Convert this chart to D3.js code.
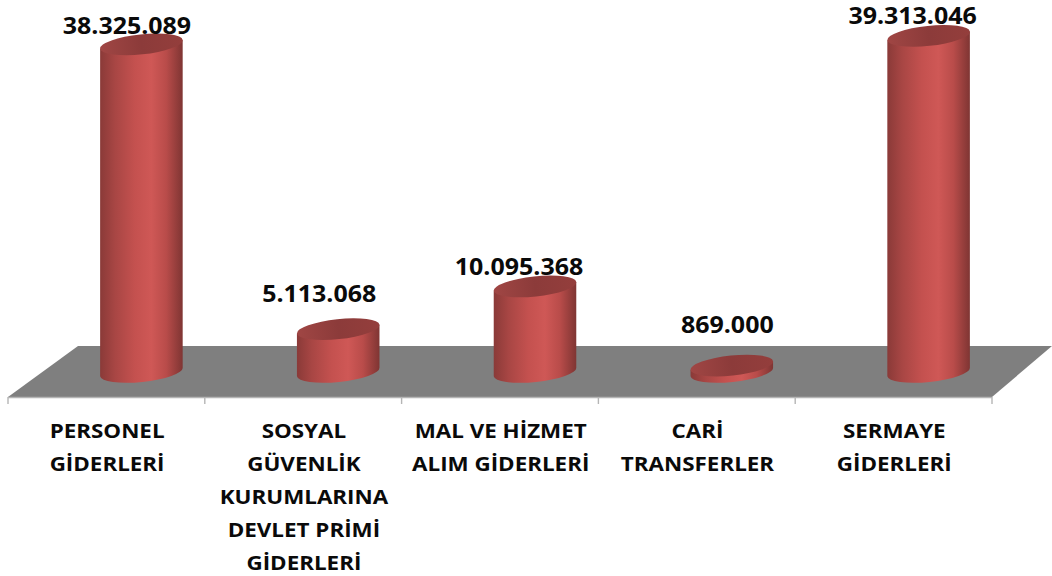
<!DOCTYPE html>
<html><head><meta charset="utf-8">
<script src="https://cdnjs.cloudflare.com/ajax/libs/d3/7.8.5/d3.min.js"></script>
<style>html,body{margin:0;padding:0;background:#fff}svg{display:block}
text{font-family:"Open Sans",Lato,sans-serif;font-weight:700;fill:#0a0a0a}</style>
</head><body><svg id="c" width="1052" height="576"></svg>
<script>
const categories = ["PERSONEL GİDERLERİ","SOSYAL GÜVENLİK KURUMLARINA DEVLET PRİMİ GİDERLERİ","MAL VE HİZMET ALIM GİDERLERİ","CARİ TRANSFERLER","SERMAYE GİDERLERİ"];
const categoryLines = [["PERSONEL","GİDERLERİ"],["SOSYAL","GÜVENLİK","KURUMLARINA","DEVLET PRİMİ","GİDERLERİ"],["MAL VE HİZMET","ALIM GİDERLERİ"],["CARİ","TRANSFERLER"],["SERMAYE","GİDERLERİ"]];
const values = [38325089,5113068,10095368,869000,39313046];
const valueLabels = ["38.325.089","5.113.068","10.095.368","869.000","39.313.046"];
// hand-placed data labels in the original chart
const labelNudgeX = [-14.5,-19,-16,-4.5,-16];
const labelNudgeY = [-10.5,-27.5,-11.4,-33,-12];

const W=1052,H=576, svg=d3.select("#c");
const x=d3.scaleBand().domain(categories).range([8,992]);
const y=d3.scaleLinear().domain([0,40000000]).range([373,30]);
const depth=70, floorBack=346, floorFront=397;
const defs=svg.append("defs");
const g=defs.append("linearGradient").attr("id","side");
[[0,"#8a3a38"],[.18,"#a84644"],[.42,"#c4514f"],[.62,"#cf5856"],[.8,"#b94c4a"],[1,"#7f3533"]].forEach(s=>g.append("stop").attr("offset",s[0]).attr("stop-color",s[1]));
const gt=defs.append("linearGradient").attr("id","top").attr("x1",0).attr("x2",1).attr("y1",0).attr("y2",0);
[[0,"#a04644"],[.5,"#8c3b3a"],[1,"#943e3c"]].forEach(s=>gt.append("stop").attr("offset",s[0]).attr("stop-color",s[1]));

svg.append("path").attr("fill","#7f7f7f")
  .attr("d",d3.line()([[x.range()[0],floorFront],[x.range()[0]+depth,floorBack],[W,floorBack],[x.range()[1],floorFront]])+"Z");

const axis=svg.append("g").attr("stroke","#b5b5b5").attr("stroke-width",1.4).attr("fill","none");
axis.append("line").attr("x1",x.range()[0]).attr("x2",x.range()[1]).attr("y1",floorFront+.5).attr("y2",floorFront+.5);
const edges=categories.map(c=>x(c)).concat([x.range()[1]]);
axis.selectAll(".t").data(edges).join("line").attr("class","t").attr("x1",d=>d).attr("x2",d=>d).attr("y1",floorFront).attr("y2",floorFront+7);

const rx=41.5, ry=10, tilt=6*Math.PI/180, dx=rx*Math.cos(tilt), dy=rx*Math.sin(tilt);
const bars=svg.selectAll(".bar").data(categories).join("g").attr("class","bar");
bars.append("path").attr("fill","url(#side)").attr("d",(c,i)=>{
  const cx=x(c)+x.bandwidth()/2+depth/2, b=y(0)-1, t=y(values[i]);
  return `M${cx-dx},${t+dy}L${cx-dx},${b+dy}A${rx},${ry},-6,0,0,${cx+dx},${b-dy}L${cx+dx},${t-dy}Z`;
});
bars.append("ellipse").attr("fill","url(#top)").attr("rx",rx).attr("ry",ry)
  .attr("transform",(c,i)=>`translate(${x(c)+x.bandwidth()/2+depth/2},${y(values[i])}) rotate(-6)`);

svg.selectAll(".v").data(categories).join("text").attr("class","v")
  .attr("text-anchor","middle").attr("font-size",24)
  .attr("transform",(c,i)=>`translate(${x(c)+x.bandwidth()/2+depth/2+labelNudgeX[i]},${y(values[i])+labelNudgeY[i]}) scale(1.04,1)`)
  .text((c,i)=>valueLabels[i]);

const cl=svg.selectAll(".c").data(categories).join("text").attr("class","c")
  .attr("text-anchor","middle").attr("font-size",20)
  .attr("transform",c=>`translate(${x(c)+x.bandwidth()/2+.7},0) scale(1.12,1)`);
cl.selectAll("tspan").data((c,i)=>categoryLines[i].map(l=>({l}))).join("tspan")
  .attr("x",0).attr("y",(d,j)=>438+j*33).text(d=>d.l);
</script></body></html>
